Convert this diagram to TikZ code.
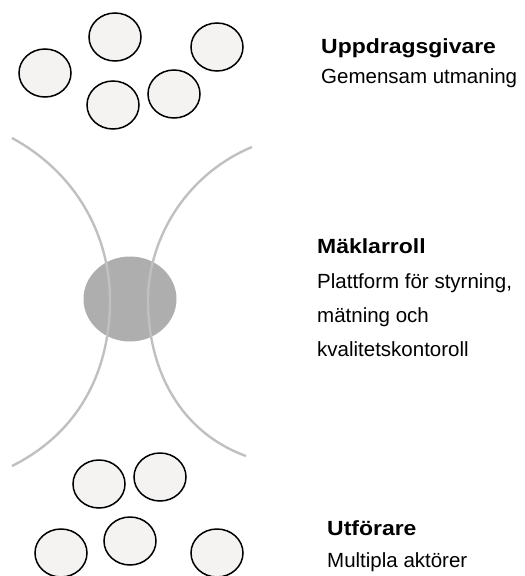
\documentclass[tikz,border=0pt]{standalone}
\usepackage{fontspec}
\usepackage{tikz}
\usetikzlibrary{shapes.geometric}
\newfontfamily\headfont{Liberation Sans Bold}[FakeStretch=1.12]
\newfontfamily\bodyfont{Liberation Sans}
\definecolor{ballfill}{HTML}{F5F2F2}
\definecolor{hubgray}{HTML}{AFAEAF}
\definecolor{arcgray}{HTML}{C0C0C0}
\tikzset{actor/.style={ellipse,draw=black,line width=1.5pt,fill=ballfill,
           minimum width=52pt,minimum height=48pt,inner sep=0pt},
         hub/.style={ellipse,fill=hubgray,minimum width=93pt,minimum height=85pt,inner sep=0pt},
         heading/.style={anchor=base west,inner sep=0pt,font=\headfont\fontsize{20.5}{23}\selectfont},
         bodyline/.style={anchor=base west,inner sep=0pt,font=\bodyfont\fontsize{20.5}{23}\selectfont},
         arc/.style={draw=arcgray,line width=2.4pt}}

\begin{document}
\begin{tikzpicture}[x=1pt,y=-1pt]
\useasboundingbox (0,0) rectangle (525,576);
\node[actor] (g1) at (45,73) {};
\node[actor] (g2) at (115,37) {};
\node[actor] (g3) at (217,47) {};
\node[actor] (g4) at (113,105) {};
\node[actor] (g5) at (174,94) {};
\node[hub] (hub) at (130,299) {};
\draw[arc](12,138) .. controls (80,175) and (110,240) .. (110,300)
               .. controls (110,370) and (80,432) .. (12,466);
\draw[arc](252,147) .. controls (185,175) and (148,240) .. (148,300)
               .. controls (148,370) and (180,432) .. (246,456);
\node[actor] (u1) at (99,484) {};
\node[actor] (u2) at (160,477) {};
\node[actor] (u3) at (130,541) {};
\node[actor] (u4) at (61,553) {};
\node[actor] (u5) at (217,553) {};
\node[heading] (givare) at (321,53) {Uppdragsgivare};
\node[bodyline] (givaretxt) at (321,83) {Gemensam utmaning};
\node[heading] (maklare) at (317,253) {Mäklarroll};
\node[bodyline] (maklaretxt1) at (317,288) {Plattform för styrning,};
\node[bodyline] (maklaretxt2) at (317,322) {mätning och};
\node[bodyline] (maklaretxt3) at (317,356) {kvalitetskontoroll};
\node[heading] (utforare) at (327,535) {Utförare};
\node[bodyline] (utforaretxt) at (327,567) {Multipla aktörer};
\end{tikzpicture}
\end{document}
